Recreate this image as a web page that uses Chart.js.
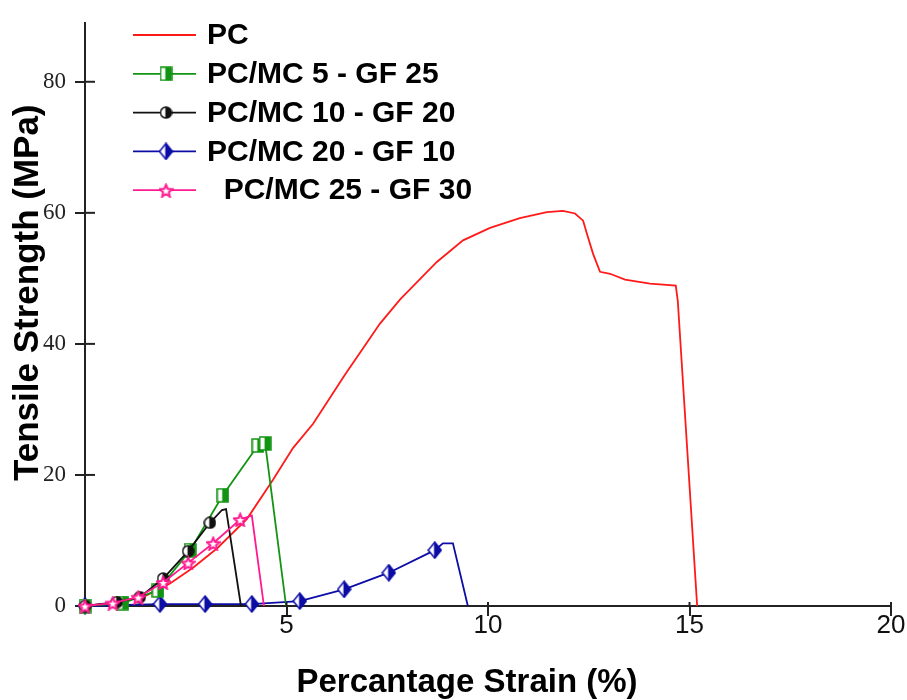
<!DOCTYPE html>
<html>
<head>
<meta charset="utf-8">
<title>Tensile strength vs strain</title>
<script src="https://cdn.jsdelivr.net/npm/chart.js@4.4.1/dist/chart.umd.min.js"></script>
<style>
  body { margin: 0; background: #fff; }
  #chart { display: block; }
</style>
</head>
<body>
<canvas id="chart" width="907" height="700"></canvas>
<script>
// strain (%) / tensile strength (MPa)
const pcStrain = [0, 0.62, 1.44, 2.11, 2.68, 3.28, 4.02, 4.67, 5.16, 5.66, 6.45, 7.32, 7.82, 8.73, 9.38, 10.05, 10.79, 11.46, 11.86, 12.16, 12.36, 12.46, 12.61, 12.78, 13.03, 13.40, 14.02, 14.66, 14.71, 15.19];
const pcStress = [0, 0.45, 1.35, 3.44, 5.83, 8.82, 13.3, 19.3, 24.1, 27.8, 35.3, 43.1, 46.8, 52.5, 55.8, 57.7, 59.2, 60.1, 60.3, 59.9, 58.8, 56.7, 53.7, 51.0, 50.7, 49.8, 49.2, 48.9, 46.5, 0];

const mc5Strain = [0, 0.94, 1.81, 2.61, 3.42, 4.29, 4.47, 4.99];
const mc5Stress = [0, 0.45, 2.39, 8.52, 16.9, 24.5, 24.8, 0];

const mc10Strain = [0, 0.79, 1.36, 1.94, 2.56, 3.10, 3.40, 3.50, 3.87];
const mc10Stress = [0, 0.6, 1.35, 4.19, 8.37, 12.7, 14.65, 14.8, 0];

const mc20Strain = [0, 1.86, 2.98, 4.14, 5.33, 6.43, 7.54, 8.68, 8.88, 9.13, 9.50];
const mc20Stress = [0, 0.3, 0.3, 0.3, 0.75, 2.54, 5.08, 8.52, 9.57, 9.57, 0];

const mc25Strain = [0, 0.69, 1.32, 1.94, 2.56, 3.18, 3.85, 4.14, 4.44];
const mc25Stress = [0, 0.45, 1.35, 3.59, 6.58, 9.57, 13.2, 13.8, 0];

// how many leading points of each series carry a marker
const markedPoints = [0, 7, 6, 8, 7];

const seriesLabels = ["PC", "PC/MC 5 - GF 25", "PC/MC 10 - GF 20", "PC/MC 20 - GF 10", "  PC/MC 25 - GF 30"];
const xTickValues = [5, 10, 15, 20];
const yTickValues = [0, 20, 40, 60, 80];

const colors = ["#ff1a1a", "#129412", "#111111", "#0c0ca6", "#ff1a90"];

// half-filled marker images (left half white, right half coloured)
function makeMarker(shape, color, w, h) {
  const c = document.createElement("canvas");
  c.width = w;
  c.height = h;
  const g = c.getContext("2d");
  g.beginPath();
  if (shape === "square") {
    g.rect(1, 1, w - 2, h - 2);
  } else if (shape === "circle") {
    g.arc(w / 2, h / 2, w / 2 - 1, 0, Math.PI * 2);
  } else if (shape === "diamond") {
    g.moveTo(w / 2, 1);
    g.lineTo(w - 1, h / 2);
    g.lineTo(w / 2, h - 1);
    g.lineTo(1, h / 2);
    g.closePath();
  } else if (shape === "star") {
    for (let i = 0; i < 10; i++) {
      const a = -Math.PI / 2 + i * Math.PI / 5;
      const r = i % 2 ? w * 0.2 : w / 2 - 1;
      const px = w / 2 + r * Math.cos(a);
      const py = h / 2 + 1 + r * Math.sin(a);
      if (i === 0) g.moveTo(px, py); else g.lineTo(px, py);
    }
    g.closePath();
  }
  g.fillStyle = "#fff";
  g.fill();
  if (shape !== "star") {
    g.save();
    g.clip();
    g.fillStyle = color;
    g.fillRect(w * 0.45, 0, w, h);
    g.restore();
  }
  g.strokeStyle = color;
  g.lineWidth = shape === "star" ? 2 : 1.5;
  g.stroke();
  return c;
}

const markers = [
  null,
  makeMarker("square", colors[1], 13, 15),
  makeMarker("circle", colors[2], 13, 13),
  makeMarker("diamond", colors[3], 15, 18),
  makeMarker("star", colors[4], 15, 15)
];

const strains = [pcStrain, mc5Strain, mc10Strain, mc20Strain, mc25Strain];
const stresses = [pcStress, mc5Stress, mc10Stress, mc20Stress, mc25Stress];
const drawOrder = [5, 3, 2, 4, 1];

const datasets = seriesLabels.map((label, i) => ({
  label,
  data: strains[i].map((x, k) => ({ x, y: stresses[i][k] })),
  borderColor: colors[i],
  backgroundColor: colors[i],
  borderWidth: 1.8,
  tension: 0,
  clip: false,
  order: drawOrder[i],
  pointStyle: markers[i] || "circle",
  pointRadius: ctx => (ctx.dataIndex < markedPoints[i] ? 6 : 0)
}));

// tick marks cross the axis line: add the inner half
const crossTicks = {
  id: "crossTicks",
  afterDraw(chart) {
    const { ctx, chartArea, scales } = chart;
    ctx.save();
    ctx.strokeStyle = "#222";
    ctx.lineWidth = 2;
    xTickValues.forEach(v => {
      const px = scales.x.getPixelForValue(v);
      ctx.beginPath();
      ctx.moveTo(px, chartArea.bottom);
      ctx.lineTo(px, chartArea.bottom - 4);
      ctx.stroke();
    });
    yTickValues.filter(v => v > 0).forEach(v => {
      const py = scales.y.getPixelForValue(v);
      ctx.beginPath();
      ctx.moveTo(chartArea.left, py);
      ctx.lineTo(chartArea.left + 10, py);
      ctx.stroke();
    });
    ctx.restore();
  }
};

// axis titles sit off-centre in the original, so draw them by hand
const axisTitles = {
  id: "axisTitles",
  afterDraw(chart) {
    const { ctx, chartArea } = chart;
    ctx.save();
    ctx.fillStyle = "#000";
    ctx.font = "bold 33px 'Liberation Sans', Arial, sans-serif";
    ctx.textAlign = "center";
    ctx.textBaseline = "alphabetic";
    ctx.fillText("Percantage Strain (%)", chartArea.left + 382, chartArea.bottom + 86);
    ctx.translate(38, chartArea.top + 270);
    ctx.rotate(-Math.PI / 2);
    ctx.font = "bold 35px 'Liberation Sans', Arial, sans-serif";
    ctx.fillText("Tensile Strength (MPa)", 0, 0);
    ctx.restore();
  }
};

// legend inside the plot, top left
const seriesKey = {
  id: "seriesKey",
  afterDraw(chart) {
    const { ctx } = chart;
    ctx.save();
    ctx.font = "bold 30px 'Liberation Sans', Arial, sans-serif";
    ctx.textBaseline = "middle";
    ctx.textAlign = "left";
    chart.data.datasets.forEach((ds, i) => {
      const y = 35 + i * 38.8;
      ctx.strokeStyle = ds.borderColor;
      ctx.lineWidth = 1.8;
      ctx.beginPath();
      ctx.moveTo(133, y);
      ctx.lineTo(196, y);
      ctx.stroke();
      const m = markers[i];
      if (m) ctx.drawImage(m, 166 - m.width / 2, y - m.height / 2);
      ctx.fillStyle = "#000";
      ctx.fillText(ds.label, 207, y + 1);
    });
    ctx.restore();
  }
};

const axisGrid = {
  drawOnChartArea: false,
  drawTicks: true,
  tickLength: 10,
  color: "#222",
  lineWidth: 2
};

new Chart(document.getElementById("chart").getContext("2d"), {
  type: "line",
  data: { datasets },
  options: {
    responsive: false,
    animation: false,
    layout: { padding: { top: 10, right: 16, left: 0, bottom: 0 } },
    plugins: {
      legend: { display: false },
      tooltip: { enabled: false }
    },
    scales: {
      x: {
        type: "linear",
        min: 0,
        max: 20,
        afterFit: s => { s.height = 94; },
        afterBuildTicks: s => { s.ticks = xTickValues.map(v => ({ value: v })); },
        ticks: {
          color: "#111",
          padding: -6,
          maxRotation: 0,
          font: { family: "'Liberation Sans', Arial, sans-serif", size: 26 }
        },
        grid: axisGrid,
        border: { display: true, color: "#222", width: 2 }
      },
      y: {
        type: "linear",
        min: 0,
        max: 89,
        afterFit: s => { s.width = 85; },
        afterBuildTicks: s => { s.ticks = yTickValues.map(v => ({ value: v })); },
        ticks: {
          color: "#222",
          padding: 9,
          font: { family: "'Liberation Serif', 'Times New Roman', serif", size: 23 }
        },
        grid: axisGrid,
        border: { display: true, color: "#222", width: 2 }
      }
    }
  },
  plugins: [crossTicks, axisTitles, seriesKey]
});
</script>
</body>
</html>
